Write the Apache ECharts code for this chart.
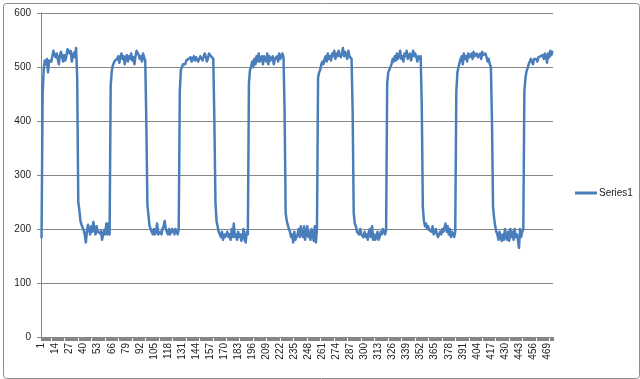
<!DOCTYPE html>
<html>
<head>
<meta charset="utf-8">
<script src="https://cdn.jsdelivr.net/npm/echarts@6/dist/echarts.min.js"></script>
<style>
html,body{margin:0;padding:0;background:#fff;}
#chart{width:640px;height:379px;}
</style>
</head>
<body>
<div id="chart"></div>
<script>
// Series values, read per cycle from the picture
const cycle1 = [183,450,495,512,505,515,490,512,515,510,520,530,522,518,525,515,505,522,528,530,510,522,512,520,533,535,525,530,510,520,527,518,535,480,250,235,215,208,210,198,190,175,195,208,200,190,205,195,213,200,190,205,195,198,192,196,180,190,198,190,210,190,210,190];
const cycle2 = [465,492,503,508,512,510,515,520,508,518,525,515,520,505,518,522,510,520,515,525,512,518,505,520,530,527,522,515,520,510,525,518,512,400,245,225,205,200,195,190,200,190,195,210,190,190,195,190,200,205,215,200,195,190,200,190,195,200,195,190,200,198,190,200];
const cycle3 = [455,495,500,505,508,505,512,510,515,512,518,510,515,520,512,518,515,510,515,520,518,512,515,525,520,510,515,525,522,520,518,515,400,250,215,205,195,190,185,195,180,190,185,190,195,185,190,180,200,185,210,185,190,180,195,185,190,178,185,200,180,175,195,190];
const cycle4 = [470,495,500,510,500,515,505,520,510,525,510,515,520,505,520,515,510,525,505,520,512,515,520,505,515,518,520,510,525,515,520,525,518,420,230,215,212,200,195,185,190,175,195,180,185,190,200,185,205,190,185,205,180,195,205,185,195,180,200,190,178,205,175,200];
const cycle5 = [480,490,495,505,510,505,515,520,510,525,515,520,512,525,520,530,515,525,520,530,522,518,525,535,520,528,522,515,530,520,518,515,420,230,210,205,195,195,190,200,190,190,185,195,185,190,180,195,200,185,205,180,190,180,185,195,180,185,195,190,200,195,190,198];
const cycle6 = [470,490,495,500,505,515,510,520,512,525,515,520,530,515,520,510,525,520,530,515,520,525,512,520,530,520,525,518,510,520,515,520,430,240,215,205,210,200,205,198,200,195,205,190,195,200,190,185,190,195,190,200,195,198,210,195,205,190,200,185,195,190,185,195];
const cycle7 = [455,490,500,508,515,520,505,525,515,520,510,525,518,520,525,515,528,520,522,525,518,520,525,515,528,522,520,525,518,510,515,505,500,400,240,220,205,195,190,180,195,185,178,190,180,200,185,180,195,178,200,185,195,180,200,185,190,180,165,200,185,195,200];
const cycle8 = [455,480,492,498,505,510,515,512,505,515,512,515,510,518,515,520,518,522,515,525,520,508,525,518,530,522,530];
const seriesName = 'Series1';
const yTicks = [0,100,200,300,400,500,600];

const values = [].concat(cycle1, cycle2, cycle3, cycle4, cycle5, cycle6, cycle7, cycle8);
const categories = values.map((v, i) => String(i + 1));

const chart = echarts.init(document.getElementById('chart'), null, {renderer: 'canvas'});
chart.setOption({
  animation: false,
  backgroundColor: '#fff',
  textStyle: {fontFamily: 'Liberation Sans, Arial, sans-serif'},
  graphic: [{
    type: 'rect', left: 1, top: 1,
    shape: {width: 636, height: 375, r: 3},
    style: {fill: 'none', stroke: '#8c8c8c', lineWidth: 1},
    silent: true, z: -1
  }],
  grid: {left: 41, right: 87, top: 13, bottom: 42, containLabel: false},
  legend: {
    left: 570, top: 183,
    data: [seriesName],
    icon: 'rect', itemWidth: 22, itemHeight: 3, itemGap: 4,
    textStyle: {fontSize: 10, color: '#222', padding: [0,0,0,-3]}
  },
  xAxis: {
    type: 'category',
    data: categories,
    boundaryGap: true,
    axisLine: {lineStyle: {color: '#868686', width: 1}},
    axisTick: {show: true, interval: 0, length: 4, lineStyle: {color: '#868686'}},
    axisLabel: {interval: 12, rotate: 90, fontSize: 10, color: '#222', margin: 6},
    splitLine: {show: false}
  },
  yAxis: {
    type: 'value',
    min: yTicks[0], max: yTicks[yTicks.length - 1], interval: 100,
    axisLine: {show: true, lineStyle: {color: '#868686', width: 1}},
    axisTick: {show: true, length: 4, lineStyle: {color: '#868686'}},
    axisLabel: {fontSize: 10, color: '#222', margin: 10},
    splitLine: {show: true, lineStyle: {color: '#868686', width: 1}}
  },
  series: [{
    name: seriesName,
    type: 'line',
    data: values,
    showSymbol: false,
    symbol: 'none',
    lineStyle: {color: '#4a7ebb', width: 2.5, join: 'round'},
    itemStyle: {color: '#4a7ebb'}
  }]
});
</script>
</body>
</html>
